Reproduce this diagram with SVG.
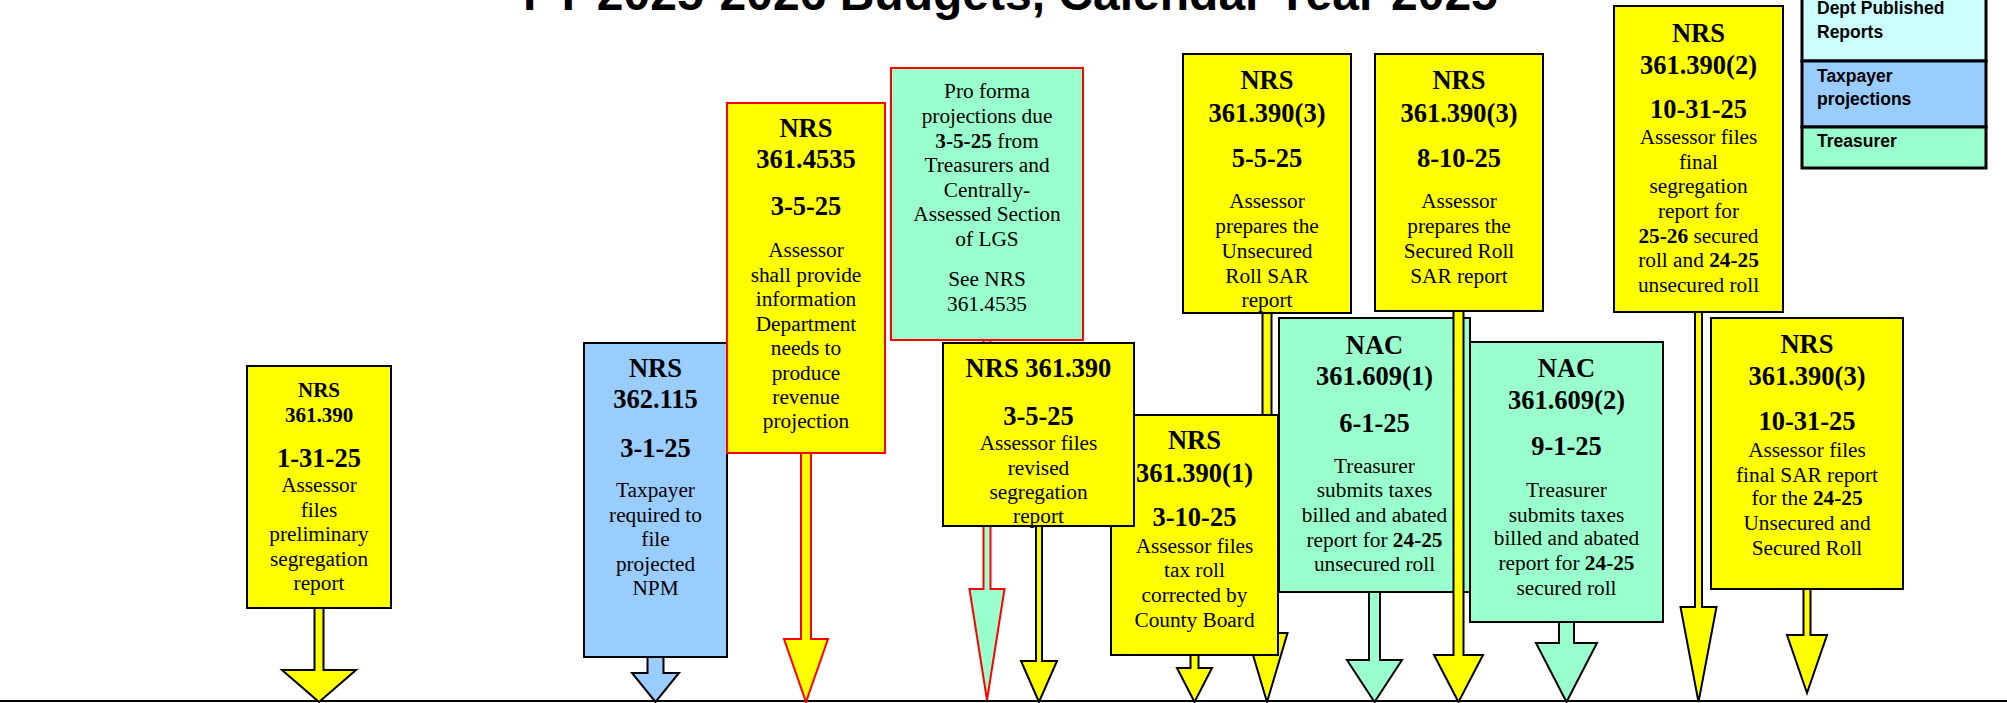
<svg xmlns="http://www.w3.org/2000/svg" width="2007" height="703" viewBox="0 0 2007 703">
<style>
text{font-family:"Liberation Serif","Times New Roman",serif;text-anchor:middle;fill:#000}
.h{font-size:26.5px;font-weight:bold}
.hs{font-size:21px;font-weight:bold}
.b{font-size:21.3px}
.b tspan.k{font-weight:bold}
.title{font-family:"Liberation Sans",Arial,sans-serif;font-size:48px;font-weight:bold;text-anchor:start}
.lg{font-family:"Liberation Sans",Arial,sans-serif;font-size:17.5px;font-weight:bold;text-anchor:start}
.yb{fill:#FFFF00;stroke:#000;stroke-width:2}
.yr{fill:#FFFF00;stroke:#FF0000;stroke-width:2}
.gb{fill:#99FFCC;stroke:#000;stroke-width:2}
.gr{fill:#99FFCC;stroke:#FF0000;stroke-width:2}
.bb{fill:#99CCFF;stroke:#000;stroke-width:2}
.ax{stroke:#000;stroke-width:2;fill:none}
</style>
<text class="title" x="523" y="10">FY 2025-2026 Budgets, Calendar Year 2025</text>

<g id="node-1">
<rect class="yb" x="247" y="366" width="144" height="242"/>
<text class="hs" x="319" y="397">NRS</text>
<text class="hs" x="319" y="422">361.390</text>
<text class="h" x="319" y="467">1-31-25</text>
<text class="b" x="319" y="492">Assessor</text>
<text class="b" x="319" y="516.5">files</text>
<text class="b" x="319" y="541">preliminary</text>
<text class="b" x="319" y="565.5">segregation</text>
<text class="b" x="319" y="590">report</text>
</g>

<g id="node-2">
<rect class="bb" x="584" y="343" width="143" height="314"/>
<text class="h" x="655.5" y="377">NRS</text>
<text class="h" x="655.5" y="408">362.115</text>
<text class="h" x="655.5" y="457">3-1-25</text>
<text class="b" x="655.5" y="497">Taxpayer</text>
<text class="b" x="655.5" y="522">required to</text>
<text class="b" x="655.5" y="546">file</text>
<text class="b" x="655.5" y="571">projected</text>
<text class="b" x="655.5" y="595">NPM</text>
</g>

<g id="node-3">
<rect class="yr" x="727" y="103" width="158" height="350"/>
<text class="h" x="806" y="137">NRS</text>
<text class="h" x="806" y="168">361.4535</text>
<text class="h" x="806" y="215">3-5-25</text>
<text class="b" x="806" y="257">Assessor</text>
<text class="b" x="806" y="282">shall provide</text>
<text class="b" x="806" y="306">information</text>
<text class="b" x="806" y="331">Department</text>
<text class="b" x="806" y="355">needs to</text>
<text class="b" x="806" y="380">produce</text>
<text class="b" x="806" y="404">revenue</text>
<text class="b" x="806" y="428">projection</text>
</g>

<g id="node-4">
<rect class="gr" x="891" y="68" width="192" height="272"/>
<text class="b" x="987" y="98">Pro forma</text>
<text class="b" x="987" y="123">projections due</text>
<text class="b" x="987" y="148"><tspan class="k">3-5-25</tspan> from</text>
<text class="b" x="987" y="172">Treasurers and</text>
<text class="b" x="987" y="197">Centrally-</text>
<text class="b" x="987" y="221">Assessed Section</text>
<text class="b" x="987" y="246">of LGS</text>
<text class="b" x="987" y="286">See NRS</text>
<text class="b" x="987" y="311">361.4535</text>
</g>

<g id="node-7">
<rect class="yb" x="1183" y="54" width="168" height="259"/>
<text class="h" x="1267" y="89">NRS</text>
<text class="h" x="1267" y="122">361.390(3)</text>
<text class="h" x="1267" y="167">5-5-25</text>
<text class="b" x="1267" y="208">Assessor</text>
<text class="b" x="1267" y="233">prepares the</text>
<text class="b" x="1267" y="258">Unsecured</text>
<text class="b" x="1267" y="283">Roll SAR</text>
<text class="b" x="1267" y="307">report</text>
</g>

<g id="node-8">
<rect class="gb" x="1279" y="318" width="191" height="274"/>
<text class="h" x="1374.5" y="354">NAC</text>
<text class="h" x="1374.5" y="385">361.609(1)</text>
<text class="h" x="1374.5" y="432">6-1-25</text>
<text class="b" x="1374.5" y="473">Treasurer</text>
<text class="b" x="1374.5" y="497">submits taxes</text>
<text class="b" x="1374.5" y="522">billed and abated</text>
<text class="b" x="1374.5" y="547">report for <tspan class="k">24-25</tspan></text>
<text class="b" x="1374.5" y="571">unsecured roll</text>
</g>

<g id="node-9">
<rect class="yb" x="1375" y="54" width="168" height="257"/>
<text class="h" x="1459" y="89">NRS</text>
<text class="h" x="1459" y="122">361.390(3)</text>
<text class="h" x="1459" y="167">8-10-25</text>
<text class="b" x="1459" y="208">Assessor</text>
<text class="b" x="1459" y="233">prepares the</text>
<text class="b" x="1459" y="258">Secured Roll</text>
<text class="b" x="1459" y="283">SAR report</text>
</g>

<g id="node-10">
<rect class="gb" x="1470" y="342" width="193" height="280"/>
<text class="h" x="1566.5" y="377">NAC</text>
<text class="h" x="1566.5" y="409">361.609(2)</text>
<text class="h" x="1566.5" y="455">9-1-25</text>
<text class="b" x="1566.5" y="497">Treasurer</text>
<text class="b" x="1566.5" y="522">submits taxes</text>
<text class="b" x="1566.5" y="545">billed and abated</text>
<text class="b" x="1566.5" y="570">report for <tspan class="k">24-25</tspan></text>
<text class="b" x="1566.5" y="595">secured roll</text>
</g>

<g id="node-11">
<rect class="yb" x="1614" y="6" width="169" height="306"/>
<text class="h" x="1698.5" y="42">NRS</text>
<text class="h" x="1698.5" y="74">361.390(2)</text>
<text class="h" x="1698.5" y="118">10-31-25</text>
<text class="b" x="1698.5" y="144">Assessor files</text>
<text class="b" x="1698.5" y="169">final</text>
<text class="b" x="1698.5" y="193">segregation</text>
<text class="b" x="1698.5" y="218">report for</text>
<text class="b" x="1698.5" y="243"><tspan class="k">25-26</tspan> secured</text>
<text class="b" x="1698.5" y="267">roll and <tspan class="k">24-25</tspan></text>
<text class="b" x="1698.5" y="292">unsecured roll</text>
</g>

<g id="node-12">
<rect class="yb" x="1711" y="318" width="192" height="271"/>
<text class="h" x="1807" y="353">NRS</text>
<text class="h" x="1807" y="385">361.390(3)</text>
<text class="h" x="1807" y="430">10-31-25</text>
<text class="b" x="1807" y="457">Assessor files</text>
<text class="b" x="1807" y="482">final SAR report</text>
<text class="b" x="1807" y="505">for the <tspan class="k">24-25</tspan></text>
<text class="b" x="1807" y="530">Unsecured and</text>
<text class="b" x="1807" y="555">Secured Roll</text>
</g>

<g id="connectors">
<line class="ax" x1="0" y1="701" x2="2007" y2="701"/>
<polygon class="yb" points="314.5,608 323.5,608 323.5,670 356,670 319,702 282,670 314.5,670"/>
<polygon class="bb" points="647.5,657 663.5,657 663.5,673 679,673 655.5,702 632,673 647.5,673"/>
<polygon class="yr" points="801,453 811,453 811,639 828,639 806,702 784,639 801,639"/>
<polygon class="gr" points="983.5,340 990.5,340 990.5,589 1004.5,589 987,700 969.5,589 983.5,589"/>
<polygon class="yb" points="1036,526 1042,526 1042,661 1057,661 1039,702 1021,661 1036,661"/>
<polygon class="yb" points="1262.5,313 1271.5,313 1271.5,633 1287.5,633 1267,702 1246.5,633 1262.5,633"/>
<polygon class="yb" points="1190.5,655 1198.5,655 1198.5,668 1212,668 1194.5,702 1177,668 1190.5,668"/>
<polygon class="gb" points="1369,592 1380,592 1380,660 1402,660 1374.5,702 1347,660 1369,660"/>
<polygon class="yb" points="1453.5,311 1463.5,311 1463.5,655 1483,655 1458.5,702 1434,655 1453.5,655"/>
<polygon class="gb" points="1559,622 1574,622 1574,643 1597,643 1566.5,702 1536,643 1559,643"/>
<polygon class="yb" points="1695,312 1702,312 1702,607 1716.5,607 1698.5,702 1680.5,607 1695,607"/>
<polygon class="yb" points="1803.5,589 1810.5,589 1810.5,635 1827,635 1807,693 1787,635 1803.5,635"/>
</g>

<g id="node-6">
<rect class="yb" x="1111" y="415" width="167" height="240"/>
<text class="h" x="1194.5" y="449">NRS</text>
<text class="h" x="1194.5" y="482">361.390(1)</text>
<text class="h" x="1194.5" y="526">3-10-25</text>
<text class="b" x="1194.5" y="553">Assessor files</text>
<text class="b" x="1194.5" y="577">tax roll</text>
<text class="b" x="1194.5" y="602">corrected by</text>
<text class="b" x="1194.5" y="627">County Board</text>
</g>

<g id="node-5">
<rect class="yb" x="943" y="343" width="191" height="183"/>
<text class="h" x="1038.5" y="377">NRS 361.390</text>
<text class="h" x="1038.5" y="425">3-5-25</text>
<text class="b" x="1038.5" y="450">Assessor files</text>
<text class="b" x="1038.5" y="475">revised</text>
<text class="b" x="1038.5" y="499">segregation</text>
<text class="b" x="1038.5" y="523">report</text>
</g>

<g id="legend">
<rect x="1802" y="-10" width="184" height="71" fill="#CCFFFF" stroke="#000" stroke-width="3"/>
<rect x="1802" y="61" width="184" height="66" fill="#99CCFF" stroke="#000" stroke-width="3"/>
<rect x="1802" y="127" width="184" height="41" fill="#99FFCC" stroke="#000" stroke-width="3"/>
<text class="lg" x="1817" y="14">Dept Published</text>
<text class="lg" x="1817" y="38">Reports</text>
<text class="lg" x="1817" y="82">Taxpayer</text>
<text class="lg" x="1817" y="105">projections</text>
<text class="lg" x="1817" y="147">Treasurer</text>
</g>
</svg>
